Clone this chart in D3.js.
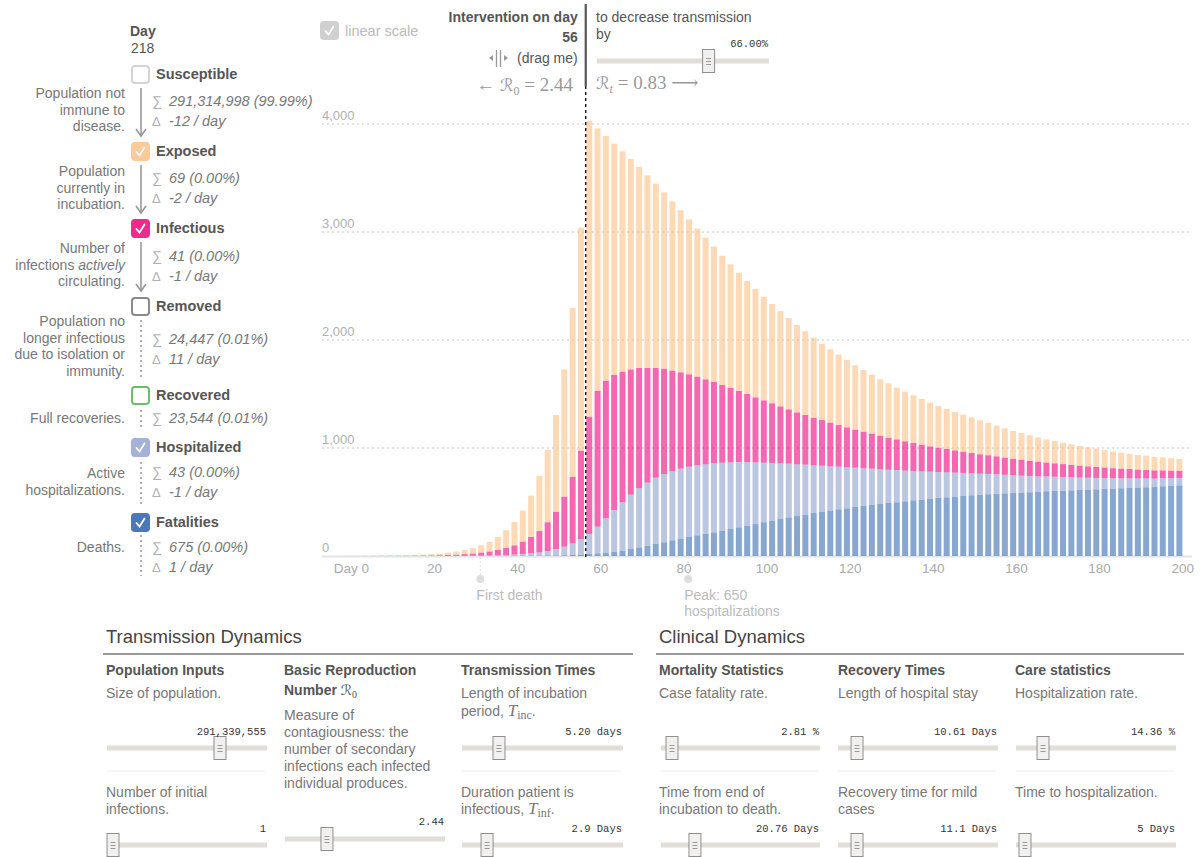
<!DOCTYPE html>
<html><head><meta charset="utf-8">
<script src="https://cdn.jsdelivr.net/npm/d3@7"></script>
<style>
body{margin:0;background:#fff;}
svg{font-family:"Liberation Sans",Arial,Helvetica,sans-serif;}
</style></head>
<body><svg id="c" width="1200" height="857"></svg>
<script>
// ---------------- data ----------------
const days = [0,2,4,6,8,10,12,14,16,18,20,22,24,26,28,30,32,34,36,38,40,42,44,46,48,50,52,54,56,58,
60,62,64,66,68,70,72,74,76,78,80,82,84,86,88,90,92,94,96,98,100,102,104,106,108,110,112,114,116,118,
120,122,124,126,128,130,132,134,136,138,140,142,144,146,148,150,152,154,156,158,160,162,164,166,168,170,
172,174,176,178,180,182,184,186,188,190,192,194,196,198,200];
const fatalities = [0,0,0,0,0,0,0,0,0,0, 0,0,0,0,0,0,0.1,0.2,0.3,0.5, 0.7,1,1.5,2.2,3.2,4.5,6.5,9,13,18,
25,31,40,49,65,80,96,114,127,145, 160,176,191,204,219,235,250,265,281,296, 312,324,343,357,370,383,398,407,420,432,
441,454,463,475,485,491,497,506,515,522, 528,537,543,549,556,562,566,572,577,580, 583,586,590,593,599,602,605,608,611,614,
617,620,623,627,630,633,636,639,645,648, 654];
const hospitalized = [0,0,0.05,0.1,0.15,0.2,0.3,0.4,0.5,0.7, 0.9,1.1,1.4,1.8,2.3,2.9,3.9,5.3,7.1,9.5, 13,18,24,32,43,60,80,108,141,186,
247,318,386,448,503,547,583,611,632,642, 649,650,649,645,639,629,617,605,589,571, 552,537,515,498,479,463,442,429,410,395,
380,364,349,334,318,308,299,284,272,262, 253,241,232,223,213,205,196,188,180,172, 165,158,151,144,138,132,127,121,116,111,
106,102,97,93,89,85,82,78,75,72, 69];
const infectious = [0.3,0.4,0.55,0.7,0.85,1.1,1.5,2,2.6,3.4, 4.5,6.1,8.3,11,15,20,27,36,48,64, 85,114,151,197,266,345,463,617,821,1086,
1256,1274,1250,1210,1160,1114,1062,1016,972,929, 892,856,820,787,753,719,689,658,630,602, 577,553,527,503,481,460,441,423,405,386,
370,352,339,324,311,297,284,272,259,247, 234,225,216,206,197,187,180,173,166,159, 153,147,141,135,129,124,119,114,110,105,
101,97,93,89,86,82,79,76,73,70, 67];
const exposed = [0.7,1,1.2,1.6,2.2,2.9,3.8,5.1,6.9,8.9, 11.6,15.8,21,29,39,51,68,91,121,164, 216,287,383,510,669,896,1179,1562,2065,2741,
2432,2266,2142,2040,1948,1861,1784,1706,1636,1568, 1500,1435,1371,1312,1253,1198,1145,1095,1046,1003, 960,919,883,845,809,774,741,707,679,651,
624,595,571,546,522,503,479,460,442,423, 405,386,370,355,343,330,315,300,284,271, 257,247,235,225,213,207,198,191,182,176,
170,161,154,148,139,135,132,124,121,115, 108];
const yTicks = [0,1000,2000,3000,4000];
const xTicks = [0,20,40,60,80,100,120,140,160,180,200];
const interventionDay = 56;
const firstDeathDay = 31;
const peakDay = 81;
const peakHosp = 650;

const compNames = ["Susceptible","Exposed","Infectious","Removed","Recovered","Hospitalized","Fatalities"];
const compDesc = [["Population not","immune to","disease."],["Population","currently in","incubation."],
  ["Number of","infections |actively|","circulating."],["Population no","longer infectious","due to isolation or","immunity."],
  ["Full recoveries."],["Active","hospitalizations."],["Deaths."]];
const compSum = ["291,314,998 (99.99%)","69 (0.00%)","41 (0.00%)","24,447 (0.01%)","23,544 (0.01%)","43 (0.00%)","675 (0.00%)"];
const compDelta = ["-12 / day","-2 / day","-1 / day","11 / day",null,"-1 / day","1 / day"];
const compChecked = [false,true,true,false,false,true,true];

// ---------------- setup ----------------
const svg = d3.select('#c');
const x = d3.scaleLinear().domain([0,200]).range([351.5,1182.7]);
const y = d3.scaleLinear().domain([0,4000]).range([556,124]);
const colors = {fatalities:"#386cb0",hospitalized:"#8da0cb",infectious:"#f0027f",exposed:"#fdc086"};
const boxFill = {Susceptible:"#fff",Exposed:"#fcc998",Infectious:"#ee2b8d",Removed:"#fff",Recovered:"#fff",Hospitalized:"#a3b2d6",Fatalities:"#4c78b8"};
const boxStroke = {Susceptible:"#d4d4d4",Exposed:"#fcc998",Infectious:"#ee2b8d",Removed:"#8a8a8a",Recovered:"#6bbf68",Hospitalized:"#a3b2d6",Fatalities:"#4c78b8"};
const SERIF = '"Liberation Serif","DejaVu Serif",serif';
const SCRIPT = '"DejaVu Serif","DejaVu Sans",serif';
const MONO = '"Liberation Mono","DejaVu Sans Mono",monospace';

function T(px,py,s,o={}){
  const t = svg.append('text').attr('x',px).attr('y',py).text(s)
    .attr('font-size',o.size||14).attr('fill',o.fill||'#777');
  if(o.bold) t.attr('font-weight','bold');
  if(o.anchor) t.attr('text-anchor',o.anchor);
  if(o.italic) t.attr('font-style','italic');
  if(o.family) t.style('font-family',o.family);
  return t;
}
function check(px,py,size,fill,stroke){
  svg.append('rect').attr('x',px+1).attr('y',py+1).attr('width',size-2).attr('height',size-2)
    .attr('rx',3).attr('fill',fill).attr('stroke',stroke).attr('stroke-width',2);
}
function tick(px,py){
  svg.append('path').attr('d',`M${px+5},${py+9.5} L${px+8},${py+13} L${px+13},${py+5}`)
    .attr('fill','none').attr('stroke','#fff').attr('stroke-width',1.8).attr('stroke-linecap','round');
}

// ---------------- chart grid ----------------
const grid = svg.append('g');
grid.selectAll('line.g').data(yTicks.filter(d=>d>0)).join('line')
  .attr('x1',322).attr('x2',1192).attr('y1',d=>y(d)).attr('y2',d=>y(d))
  .attr('stroke','#d9d9d9').attr('stroke-width',1.5).attr('stroke-dasharray','2,3');
grid.append('line').attr('x1',322).attr('x2',1192).attr('y1',y(0)+0.5).attr('y2',y(0)+0.5)
  .attr('stroke','#e4e4e4').attr('stroke-width',2);
grid.selectAll('text').data(yTicks).join('text')
  .attr('x',322).attr('y',d=>y(d)-4).attr('font-size',13).attr('fill','#b0b0b0')
  .text(d=>d3.format(',')(d));

// ---------------- bars ----------------
const rows = days.map((d,i)=>({day:d,fatalities:fatalities[i],hospitalized:hospitalized[i],infectious:infectious[i],exposed:exposed[i]}));
const keys = ["fatalities","hospitalized","infectious","exposed"];
const series = d3.stack().keys(keys)(rows);
svg.append('g').selectAll('g').data(series).join('g')
  .attr('fill',d=>colors[d.key]).attr('fill-opacity',0.6)
  .selectAll('rect').data(d=>d).join('rect')
  .attr('x',d=>x(d.data.day)-6.3).attr('width',6)
  .attr('y',d=>y(d[1])).attr('height',d=>Math.max(0,y(d[0])-y(d[1])));

// x axis labels
svg.append('g').selectAll('text').data(xTicks).join('text')
  .attr('x',d=>x(d)).attr('y',573).attr('text-anchor','middle')
  .attr('font-size',13.5).attr('fill','#aaa').text(d=>d===0?'Day 0':d);

// annotations
function annot(day,lines){
  const ax = x(day);
  svg.append('line').attr('x1',ax).attr('x2',ax).attr('y1',557).attr('y2',576)
    .attr('stroke','#ddd').attr('stroke-dasharray','2,2');
  svg.append('circle').attr('cx',ax).attr('cy',579).attr('r',4).attr('fill','#ddd');
  lines.forEach((l,i)=>T(ax-4,600+i*16,l,{fill:'#bbb',size:14}));
}
annot(firstDeathDay,["First death"]);
annot(peakDay,[`Peak: ${peakHosp}`,"hospitalizations"]);

// intervention line
const ix = x(interventionDay)+1.5;
svg.append('line').attr('x1',ix).attr('x2',ix).attr('y1',86).attr('y2',557)
  .attr('stroke','#000').attr('stroke-width',1.3).attr('stroke-dasharray','3,3');
svg.append('line').attr('x1',ix).attr('x2',ix).attr('y1',4).attr('y2',86)
  .attr('stroke','#555').attr('stroke-width',2.2);

// top controls
check(320,21,19,'#d0d0d0','#d0d0d0'); tick(320.5,21.5);
T(345,36,'linear scale',{fill:'#bbb',size:14.5});
T(ix-8,22,'Intervention on day',{bold:true,anchor:'end',fill:'#555',size:14});
T(ix-8,42,String(interventionDay),{bold:true,anchor:'end',fill:'#555',size:14});
T(ix-8,63,'(drag me)',{anchor:'end',fill:'#555',size:14});
// drag icon
const dg = svg.append('g').attr('fill','#999').attr('stroke','#999');
dg.append('path').attr('d','M489,58 L493,55 L493,61 Z').attr('stroke','none');
dg.append('line').attr('x1',496.5).attr('x2',496.5).attr('y1',50).attr('y2',67).attr('stroke-width',1.3);
dg.append('line').attr('x1',500.5).attr('x2',500.5).attr('y1',50).attr('y2',67).attr('stroke-width',1.3);
dg.append('path').attr('d','M508,58 L504,55 L504,61 Z').attr('stroke','none');
const m1 = T(573,91,'',{anchor:'end',fill:'#999',size:19,family:SERIF});
m1.append('tspan').text('\u2190 ');
m1.append('tspan').text('\u211B').style('font-family',SCRIPT).attr('font-size',17);
m1.append('tspan').text('0').attr('font-size',12).attr('dy',4);
m1.append('tspan').text(' = 2.44').attr('dy',-4);

T(596,22,'to decrease transmission',{fill:'#555',size:14});
T(596,39,'by',{fill:'#555',size:14});
const m2 = T(596,89,'',{fill:'#999',size:19,family:SERIF});
m2.append('tspan').text('\u211B').style('font-family',SCRIPT).attr('font-size',17);
m2.append('tspan').text('t').attr('font-size',12).attr('font-style','italic').attr('dy',4);
m2.append('tspan').text(' = 0.83 \u27F6').attr('dy',-4);

function slider(x1,x2,sy,frac,label,ly){
  svg.append('rect').attr('x',x1).attr('y',sy-2.5).attr('width',x2-x1).attr('height',5).attr('fill','#e2ddd6');
  const hs = d3.scaleLinear().domain([0,1]).range([x1+6,x2-6]);
  const hx = hs(frac);
  svg.append('rect').attr('x',hx-6).attr('y',sy-11.5).attr('width',12).attr('height',23)
    .attr('fill','#f1f0ee').attr('stroke','#8f8f8f').attr('stroke-width',1);
  [-3,0,3].forEach(o=>svg.append('line').attr('x1',hx-2.5).attr('x2',hx+2.5).attr('y1',sy+o+0.5).attr('y2',sy+o+0.5)
    .attr('stroke','#999').attr('stroke-width',1));
  T(x2-1,ly,label,{anchor:'end',fill:'#333',size:10.5,family:MONO});
}
slider(597,769,61,0.66,'66.00%',47);

// ---------------- left panel ----------------
T(130,36,'Day',{bold:true,fill:'#555',size:14});
T(131,53,'218',{fill:'#555',size:14});
const boxY = [65,142,219,297,386,438,513];
const descY = [98,176,253,326,423,478,552];
const sumY = [106,183,261,344,423,477,552];
const connY = [[88,136],[165,213],[242,291],[320,378],[410,429],[462,507],[535,576]];
compNames.forEach((n,i)=>{
  const by = boxY[i];
  check(131,by,19,boxFill[n],boxStroke[n]);
  if(compChecked[i]) tick(131.5,by+0.5);
  T(156,by+14,n,{bold:true,fill:'#555',size:14.5});
  compDesc[i].forEach((l,j)=>{
    const t = T(125,descY[i]+j*16.5,'',{anchor:'end',fill:'#777',size:14});
    if(l.includes('|')){
      const parts = l.split('|');
      t.append('tspan').text(parts[0]);
      t.append('tspan').text(parts[1]).attr('font-style','italic');
      t.append('tspan').text(parts[2]);
    } else t.text(l);
  });
  T(152,sumY[i],'\u2211',{fill:'#b0b0b0',size:14});
  T(169,sumY[i],compSum[i],{italic:true,fill:'#777',size:14.5});
  if(compDelta[i]){
    T(152,sumY[i]+20,'\u0394',{fill:'#b0b0b0',size:13});
    T(169,sumY[i]+20,compDelta[i],{italic:true,fill:'#777',size:14.5});
  }
  const [c1,c2] = connY[i];
  if(i<3){
    svg.append('line').attr('x1',141).attr('x2',141).attr('y1',c1).attr('y2',c2)
      .attr('stroke','#999').attr('stroke-width',1.6);
    svg.append('path').attr('d',`M136,${c2-7} L141,${c2} L146,${c2-7}`).attr('fill','none')
      .attr('stroke','#999').attr('stroke-width',1.6);
  } else {
    svg.append('line').attr('x1',141).attr('x2',141).attr('y1',c1).attr('y2',c2)
      .attr('stroke','#999').attr('stroke-width',1.5).attr('stroke-dasharray','2,3');
  }
});

// ---------------- bottom panels ----------------
const sections = ["Transmission Dynamics","Clinical Dynamics"];
const sectionX = [[105,633],[658,1184]];
sections.forEach((s,i)=>{
  T(sectionX[i][0]+1,643,s,{fill:'#444',size:18.5});
  svg.append('line').attr('x1',sectionX[i][0]-2).attr('x2',sectionX[i][1]).attr('y1',654).attr('y2',654)
    .attr('stroke','#999').attr('stroke-width',2);
});
const colX = [106,284,461,659,838,1015];
const colHead = [["Population Inputs"],["Basic Reproduction","Number |R0|"],["Transmission Times"],["Mortality Statistics"],["Recovery Times"],["Care statistics"]];
colHead.forEach((h,i)=>{
  h.forEach((l,j)=>{
    const t = T(colX[i],675+j*20,'',{bold:true,fill:'#555',size:14});
    if(l.includes('|')){
      t.append('tspan').text('Number ');
      t.append('tspan').text('\u211B').style('font-family',SCRIPT).attr('font-weight','normal').attr('font-size',14);
      t.append('tspan').text('0').style('font-family',SERIF).attr('font-size',10).attr('font-weight','normal').attr('dy',3);
    } else t.text(l);
  });
});
function mathLine(px,py,pre,sub){
  const t = T(px,py,pre,{fill:'#777',size:14});
  t.append('tspan').text('T').style('font-family',SERIF).attr('font-style','italic').attr('font-size',17);
  t.append('tspan').text(sub).style('font-family',SERIF).attr('font-size',12).attr('dy',3);
  t.append('tspan').text('.').attr('dy',-3);
}
// column 1
T(106,698,'Size of population.');
slider(107,267,748,0.723,'291,339,555',735);
svg.append('line').attr('x1',107).attr('x2',265).attr('y1',771).attr('y2',771).attr('stroke','#eee');
T(106,797,'Number of initial'); T(106,814,'infections.');
slider(107,267,845,0,'1',832);
// column 2
["Measure of","contagiousness: the","number of secondary","infections each infected","individual produces."]
  .forEach((l,j)=>T(284,720+j*17,l));
slider(285,445,839,0.243,'2.44',825);
// column 3
T(461,698,'Length of incubation');
mathLine(461,716,'period, ','inc');
slider(462,623,748,0.208,'5.20 days',735);
svg.append('line').attr('x1',462).attr('x2',621).attr('y1',771).attr('y2',771).attr('stroke','#eee');
T(461,797,'Duration patient is');
mathLine(461,814,'infectious, ','inf');
slider(462,623,845,0.128,'2.9 Days',832);
// column 4
T(659,698,'Case fatality rate.');
slider(661,820,748,0.034,'2.81 %',735);
svg.append('line').attr('x1',661).attr('x2',818).attr('y1',771).attr('y2',771).attr('stroke','#eee');
T(659,797,'Time from end of'); T(659,814,'incubation to death.');
slider(661,820,845,0.19,'20.76 Days',832);
// column 5
T(838,698,'Length of hospital stay');
slider(838,998,748,0.088,'10.61 Days',735);
svg.append('line').attr('x1',838).attr('x2',996).attr('y1',771).attr('y2',771).attr('stroke','#eee');
T(838,797,'Recovery time for mild'); T(838,814,'cases');
slider(838,998,845,0.088,'11.1 Days',832);
// column 6
T(1015,698,'Hospitalization rate.');
slider(1016,1176,748,0.142,'14.36 %',735);
svg.append('line').attr('x1',1016).attr('x2',1174).attr('y1',771).attr('y2',771).attr('stroke','#eee');
T(1015,797,'Time to hospitalization.');
slider(1016,1176,845,0.02,'5 Days',832);
</script></body></html>
